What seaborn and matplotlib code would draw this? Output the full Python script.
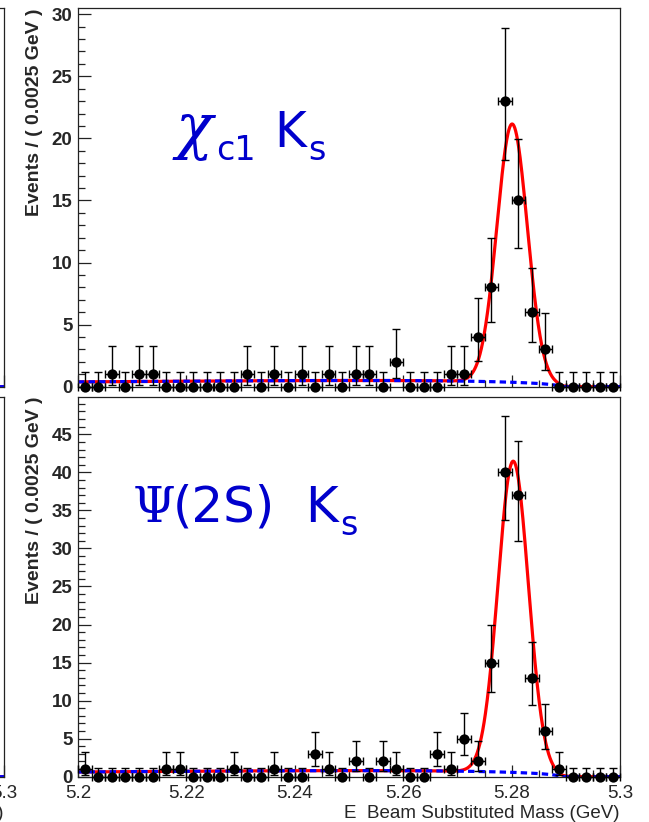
import numpy as np
import pandas as pd
import matplotlib
matplotlib.use("Agg")
import matplotlib.pyplot as plt
import seaborn as sns
from matplotlib.ticker import MultipleLocator, FixedLocator, FixedFormatter

# ---------------- data ----------------
x_lo, x_hi = 5.2, 5.3
bin_width = 0.0025

counts_chic1 = [0, 0, 1, 0, 1, 1, 0, 0, 0, 0, 0, 0, 1, 0, 1, 0, 1, 0, 1, 0,
                1, 1, 0, 2, 0, 0, 0, 1, 1, 4, 8, 23, 15, 6, 3, 0, 0, 0, 0, 0]
counts_psi2s = [1, 0, 0, 0, 0, 0, 1, 1, 0, 0, 0, 1, 0, 0, 1, 0, 0, 3, 1, 0,
                2, 0, 2, 1, 0, 0, 3, 1, 5, 2, 15, 40, 37, 13, 6, 1, 0, 0, 0, 0]

# asymmetric (Poisson) error bar ends per count value
poisson_n = [0, 1, 2, 3, 4, 5, 6, 8, 13, 15, 23, 37, 40]
poisson_lo = [0.0, 0.173, 0.708, 1.367, 2.086, 2.840, 3.620, 5.232, 9.45, 11.17, 18.24, 30.95, 33.70]
poisson_hi = [1.148, 3.300, 4.638, 5.918, 7.163, 8.382, 9.584, 11.944, 17.69, 19.95, 28.86, 44.13, 47.38]

# fit curve parameters
sig_mean_chic1, sig_width_chic1, sig_peak_chic1 = 5.2801, 0.0028, 20.8
sig_mean_psi2s, sig_width_psi2s, sig_peak_psi2s = 5.2803, 0.0028, 40.9
argus_m0 = 5.289
argus_c = -35.0
bkg_level_chic1 = 0.5
bkg_level_psi2s = 0.8
bkg_level_left = 0.5

y_max_chic1 = 30.5
y_max_psi2s = 49.9

x_ticks = [5.2, 5.22, 5.24, 5.26, 5.28, 5.3]
x_tick_labels = ["5.2", "5.22", "5.24", "5.26", "5.28", "5.3"]

y_label = "Events / ( 0.0025 GeV )"
x_label = "E  Beam Substituted Mass (GeV)"

# ---------------- style ----------------
sns.set_theme(style="ticks")
plt.rcParams["font.family"] = ["Liberation Sans", "DejaVu Sans"]
plt.rcParams["axes.linewidth"] = 0.9
plt.rcParams["axes.edgecolor"] = "#222222"

W, H = 649, 822
fig = plt.figure(figsize=(W / 100, H / 100), dpi=100)


def frac(left, top, right, bottom):
    return [left / W, 1 - bottom / H, (right - left) / W, (bottom - top) / H]


ax_top = fig.add_axes(frac(78, 8, 620, 386.7))
ax_bot = fig.add_axes(frac(78, 397, 620, 776.7))
ax_lt = fig.add_axes(frac(4 - 542, 8, 4, 386.7))
ax_lb = fig.add_axes(frac(4 - 542, 397, 4, 776.7))

grid = np.linspace(x_lo, x_hi, 1201)


def argus(m, level):
    z = m / argus_m0
    r = np.clip(1 - z ** 2, 0, None)
    f = m * np.sqrt(r) * np.exp(argus_c * r)
    return level * f / f.max()


def style_axis(ax, ymax, ymajor, show_xlabels):
    ax.set_xlim(x_lo, x_hi)
    ax.set_ylim(0, ymax)
    ax.xaxis.set_major_locator(FixedLocator(x_ticks))
    ax.xaxis.set_major_formatter(FixedFormatter(x_tick_labels))
    ax.xaxis.set_minor_locator(MultipleLocator(0.005))
    ax.yaxis.set_major_locator(MultipleLocator(ymajor))
    ax.yaxis.set_minor_locator(MultipleLocator(1))
    ax.tick_params(axis="both", which="major", direction="in", length=9, width=0.9,
                   color="#222222", top=False, right=False)
    ax.tick_params(axis="both", which="minor", direction="in", length=5, width=0.9,
                   color="#222222", top=False, right=False)
    ax.tick_params(axis="y", which="major", pad=4, labelsize=13.5)
    ax.tick_params(axis="x", which="major", pad=6, labelsize=13.5, labelbottom=show_xlabels)
    for lab in ax.get_yticklabels():
        lab.set_fontweight("bold")
    for sp in ax.spines.values():
        sp.set_visible(True)
        sp.set_color("#222222")
    ax.set_ylabel(y_label, loc="top", fontsize=14, fontweight="bold", labelpad=6)
    if show_xlabels:
        ax.set_xlabel(x_label, loc="right", fontsize=13.5, labelpad=2)
    else:
        ax.set_xlabel("")


def draw_curves(ax, mean, width, peak, bkg_level):
    bkg = argus(grid, bkg_level)
    total = bkg + peak * np.exp(-0.5 * ((grid - mean) / width) ** 2)
    sns.lineplot(x=grid, y=total, ax=ax, color="#ff0000", linewidth=2.3,
                 sort=False, estimator=None, zorder=2)
    sns.lineplot(x=grid, y=bkg, ax=ax, color="#0000ff", linewidth=2.3,
                 sort=False, estimator=None, zorder=2.5)
    ax.lines[-1].set_linestyle((0, (2.0, 1.3)))


def draw_panel(ax, counts, mean, width, peak, bkg_level, ymax, ymajor, show_xlabels):
    counts = np.asarray(counts)
    centers = x_lo + bin_width * (np.arange(len(counts)) + 0.5)
    lo_map = dict(zip(poisson_n, poisson_lo))
    hi_map = dict(zip(poisson_n, poisson_hi))
    elo = np.array([c - lo_map[c] for c in counts])
    ehi = np.array([hi_map[c] - c for c in counts])
    draw_curves(ax, mean, width, peak, bkg_level)
    ax.errorbar(centers, counts, xerr=bin_width / 2, yerr=[elo, ehi], fmt="none",
                ecolor="black", elinewidth=1.0, capsize=2.6, capthick=1.0, zorder=3,
                clip_on=False)
    df = pd.DataFrame({"mass": centers, "events": counts})
    sns.scatterplot(data=df, x="mass", y="events", ax=ax, color="black", s=55,
                    linewidth=0, zorder=4, legend=False, clip_on=False)
    style_axis(ax, ymax, ymajor, show_xlabels)


draw_panel(ax_top, counts_chic1, sig_mean_chic1, sig_width_chic1, sig_peak_chic1,
           bkg_level_chic1, y_max_chic1, 5, False)
draw_panel(ax_bot, counts_psi2s, sig_mean_psi2s, sig_width_psi2s, sig_peak_psi2s,
           bkg_level_psi2s, y_max_psi2s, 5, True)

# partially visible neighbouring panels at the left edge
for ax, show in ((ax_lt, False), (ax_lb, True)):
    sns.lineplot(x=grid, y=argus(grid, bkg_level_left), ax=ax, color="#ff0000",
                 linewidth=2.3, sort=False, estimator=None, zorder=2)
    sns.lineplot(x=grid, y=argus(grid, bkg_level_left), ax=ax, color="#0000ff",
                 linewidth=2.3, sort=False, estimator=None, zorder=2.5)
    ax.lines[-1].set_linestyle((0, (2.0, 1.3)))
    style_axis(ax, 30.5, 5, show)
    ax.tick_params(axis="y", labelleft=False)
    ax.set_ylabel("")

# ---------------- channel labels (pixel layout) ----------------
blue = "#0000cc"


def put(text, left_px, base_px, **kw):
    fig.text(left_px / W, 1 - base_px / H, text, ha="left", va="baseline",
             color=blue, **kw)


serif = ["DejaVu Serif"]
sans = ["DejaVu Sans"]

# chi_c1 K_s
put("\u03c7", 176, 146.7, family=serif, style="italic", fontsize=44)
put("c1", 216, 160, family=sans, fontsize=24)
put("K", 274, 146.7, family=sans, fontsize=35)
put("s", 308, 160, family=sans, fontsize=24)

# Psi(2S) K_s
put("\u03a8", 133, 521.7, family=serif, fontsize=35)
put("(2S)", 173, 521.7, family=sans, fontsize=36)
put("K", 305, 521.7, family=sans, fontsize=36)
put("s", 340, 535, family=sans, fontsize=24)

fig.savefig("out.png", dpi=100)
